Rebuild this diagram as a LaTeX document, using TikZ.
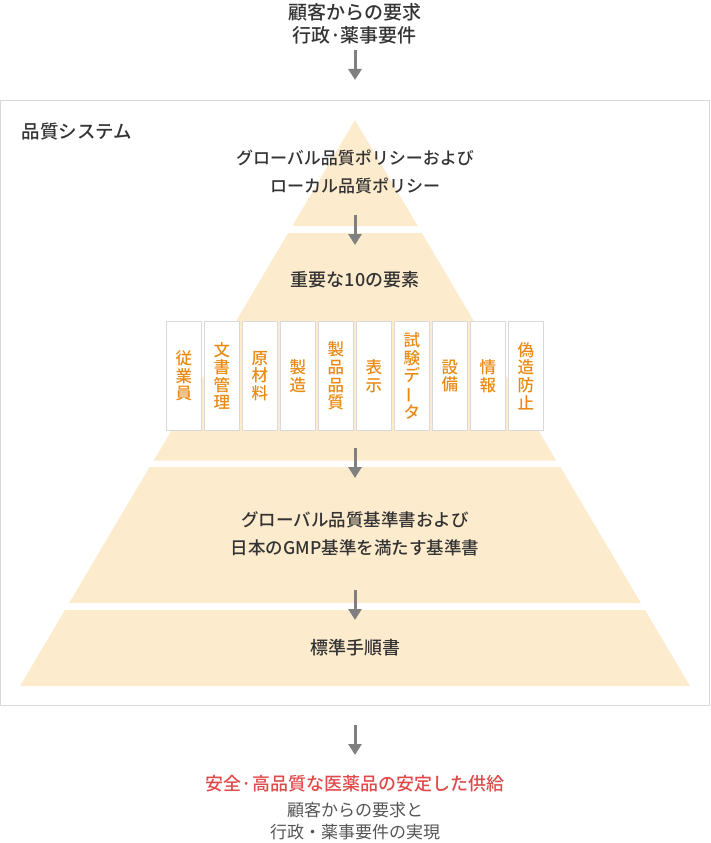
\documentclass[tikz,border=0pt]{standalone}
\usepackage{fontspec}
\setmainfont{Noto Sans CJK JP}
\newfontfamily\medfont{Noto Sans CJK JP Medium}
\usetikzlibrary{arrows.meta}
\definecolor{peach}{HTML}{FDEBCD}
\definecolor{arrowgray}{HTML}{808080}
\definecolor{boxline}{HTML}{D9D9D9}
\definecolor{darktext}{HTML}{333333}
\definecolor{graytext}{HTML}{555555}
\definecolor{cardorange}{HTML}{E98A15}
\definecolor{redtext}{HTML}{E04A4A}
\begin{document}
\begin{tikzpicture}[x=1pt,y=-1pt,
  flow/.style={draw=arrowgray,line width=3pt,-{Triangle[width=13pt,length=11pt]}},
  label/.style={text=darktext,align=center,inner sep=0pt,font=\medfont\fontsize{17}{28}\selectfont},
  card/.style={draw=boxline,line width=1pt,fill=white,minimum width=35.5pt,minimum height=109.5pt,
    inner sep=0pt,text=cardorange,align=center,font=\medfont\fontsize{16.5}{17.6}\selectfont},
  tier/.style={fill=peach}]
\useasboundingbox (0,0) rectangle (710,843);
% top text
\node[label,font=\medfont\fontsize{19}{23}\selectfont] (req) at (354.5,24) {顧客からの要求\\行政·薬事要件};
\coordinate (a0s) at (355,50);
\coordinate (a0e) at (355,80);
\draw[flow] (a0s) -- (a0e);
% outer box
\draw[boxline,line width=1pt] (0.5,100.5) rectangle (709.5,705.5);
\node[label,anchor=west,font=\medfont\fontsize{18.5}{22}\selectfont] (qs) at (21.5,131.5) {品質システム};
% tiers
\fill[tier] (355,120) -- (417.7,226) -- (292.3,226) -- cycle;
\fill[tier] (288.1,233) -- (421.9,233) -- (556.2,460.5) -- (153.8,460.5) -- cycle;
\fill[tier] (149.6,467) -- (560.4,467) -- (640.9,603) -- (69.1,603) -- cycle;
\fill[tier] (65,610) -- (645,610) -- (690,686) -- (20,686) -- cycle;
% tier texts
\node[label] (t1) at (355,172) {グローバル品質ポリシーおよび\\ローカル品質ポリシー};
\node[label,font=\medfont\fontsize{18}{28}\selectfont] (t2) at (355,280) {重要な10の要素};
\node[label,font=\medfont\fontsize{17.5}{28}\selectfont] (t3) at (355,534) {グローバル品質基準書および\\日本のGMP基準を満たす基準書};
\node[label,font=\medfont\fontsize{18}{28}\selectfont] (t4) at (355,648) {標準手順書};
% cards
\foreach \i/\t in {0/従\\業\\員,1/文\\書\\管\\理,2/原\\材\\料,3/製\\造,4/製\\品\\品\\質,5/表\\示,
  6/試\\験\\デ\\\rotatebox[origin=c]{90}{ー}\\タ,7/設\\備,8/情\\報,9/偽\\造\\防\\止}{
  \node[card] (c\i) at ({166+38*\i+17.75},376) {\t};
}
% arrows inside
\coordinate (a1s) at (355,215);
\coordinate (a1e) at (355,245);
\draw[flow] (a1s) -- (a1e);
\coordinate (a2s) at (355,448);
\coordinate (a2e) at (355,478);
\draw[flow] (a2s) -- (a2e);
\coordinate (a3s) at (355,590);
\coordinate (a3e) at (355,620);
\draw[flow] (a3s) -- (a3e);
% bottom
\coordinate (a4s) at (355,725);
\coordinate (a4e) at (355,755);
\draw[flow] (a4s) -- (a4e);
\node[label,text=redtext,font=\medfont\fontsize{18}{22}\selectfont] (goal) at (355,784) {安全·高品質な医薬品の安定した供給};
\node[label,text=graytext,font=\fontsize{17}{22}\selectfont] (real) at (355,821) {顧客からの要求と\\行政・薬事要件の実現};
\end{tikzpicture}
\end{document}
